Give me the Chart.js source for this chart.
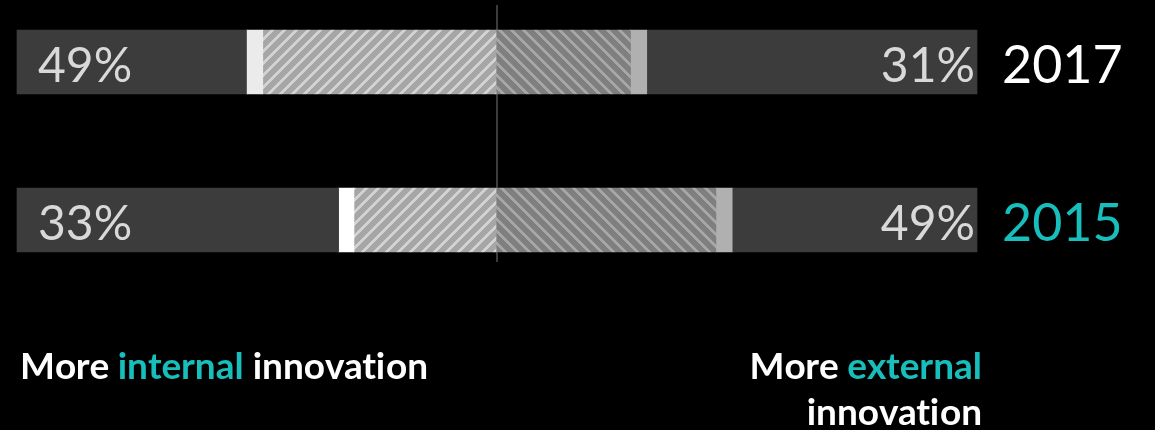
<!DOCTYPE html>
<html>
<head>
<meta charset="utf-8">
<script src="https://cdn.jsdelivr.net/npm/chart.js@4.4.1/dist/chart.umd.min.js"></script>
<style>
  html, body { margin: 0; padding: 0; background: #000; }
  #chart { display: block; }
</style>
</head>
<body>
<canvas id="chart" width="1155" height="430"></canvas>
<script>
// Chart data (share of respondents, %)
const years = ['2017', '2015'];
const muchInternal = [23.9, 33.5];
const slightInternal = [1.7, 1.6];
const leanInternal = [24.3, 14.8];
const leanExternal = [14.0, 22.9];
const slightExternal = [1.7, 1.7];
const muchExternal = [34.4, 25.5];
const leftLabels = ['49%', '33%'];
const rightLabels = ['31%', '49%'];
const yearColors = ['#ffffff', '#17bebb'];

const TEAL = '#17bebb';

// Diagonal hatch pattern built pixel by pixel
function makeHatch(bg, stripe, forward) {
    const size = 12;
    const c = document.createElement('canvas');
    c.width = size; c.height = size;
    const ctx = c.getContext('2d');
    ctx.fillStyle = bg;
    ctx.fillRect(0, 0, size, size);
    ctx.fillStyle = stripe;
    for (let y = 0; y < size; y++) {
        for (let x = 0; x < size; x++) {
            const k = forward ? (x + y) % size : ((x - y) % size + size) % size;
            if (k < 4) ctx.fillRect(x, y, 1, 1);
        }
    }
    return ctx.createPattern(c, 'repeat');
}

const hatchLeft = makeHatch('#a6a6a6', '#d2d2d2', true);
const hatchRight = makeHatch('#7f7f7f', '#a6a6a6', false);

// draw text letter by letter so Lato doesn't join "ti"; returns width
function plainText(ctx, text, x, y) {
    for (let i = 0; i < text.length; i++) {
        const off = ctx.measureText(text.slice(0, i)).width;
        ctx.fillText(text[i], x + off, y);
    }
    return ctx.measureText(text).width;
}

// Center divider and text labels
const overlay = {
    id: 'overlay',
    beforeDatasetsDraw(chart) {
        const ctx = chart.ctx;
        const x = chart.scales.x.getPixelForValue(50);
        ctx.save();
        ctx.strokeStyle = '#3c3c3c';
        ctx.lineWidth = 2;
        ctx.beginPath();
        ctx.moveTo(x, 5);
        ctx.lineTo(x, 262);
        ctx.stroke();
        ctx.restore();
    },
    afterDatasetsDraw(chart) {
        const ctx = chart.ctx;
        const xs = chart.scales.x;
        const ys = chart.scales.y;
        ctx.save();
        ctx.textBaseline = 'alphabetic';
        years.forEach((yr, i) => {
            const y = ys.getPixelForValue(i) + 20;
            ctx.font = '48px Lato';
            ctx.fillStyle = '#d9d9d9';
            ctx.textAlign = 'left';
            ctx.fillText(leftLabels[i], xs.getPixelForValue(0) + 21, y);
            ctx.textAlign = 'right';
            ctx.fillText(rightLabels[i], xs.getPixelForValue(100) - 2, y);
            ctx.font = '52px Lato';
            ctx.textAlign = 'left';
            ctx.fillStyle = yearColors[i];
            ctx.fillText(yr, xs.getPixelForValue(100) + 25, y + 1);
        });

        // Axis captions
        ctx.font = 'bold 37px Lato';
        ctx.textAlign = 'left';
        const parts = [['More ', '#ffffff'], ['internal', TEAL], [' innovation', '#ffffff']];
        let x = 20;
        parts.forEach(p => {
            ctx.fillStyle = p[1];
            x += plainText(ctx, p[0], x, 379);
        });
        const wExt = ctx.measureText('external').width;
        const wMore = ctx.measureText('More ').width;
        ctx.fillStyle = '#ffffff';
        plainText(ctx, 'More ', 982 - wExt - wMore, 379);
        ctx.fillStyle = TEAL;
        plainText(ctx, 'external', 982 - wExt, 379);
        ctx.fillStyle = '#ffffff';
        plainText(ctx, 'innovation', 982 - ctx.measureText('innovation').width, 425);
        ctx.restore();
    }
};

const ctx = document.getElementById('chart').getContext('2d');
new Chart(ctx, {
    type: 'bar',
    data: {
        labels: years,
        datasets: [
            { data: muchInternal, backgroundColor: '#3c3c3c' },
            { data: slightInternal, backgroundColor: ['#ebebeb', '#ffffff'] },
            { data: leanInternal, backgroundColor: hatchLeft },
            { data: leanExternal, backgroundColor: hatchRight },
            { data: slightExternal, backgroundColor: '#b0b0b0' },
            { data: muchExternal, backgroundColor: '#3c3c3c' }
        ].map(d => Object.assign(d, { barThickness: 64, borderWidth: 0, clip: false }))
    },
    options: {
        indexAxis: 'y',
        responsive: false,
        animation: false,
        layout: { padding: { left: 17, right: 178, top: 62, bottom: 210 } },
        plugins: { legend: { display: false }, tooltip: { enabled: false } },
        scales: {
            x: { stacked: true, min: 0, max: 100, display: false },
            y: { stacked: true, offset: false, display: false }
        }
    },
    plugins: [overlay]
});
</script>
</body>
</html>
